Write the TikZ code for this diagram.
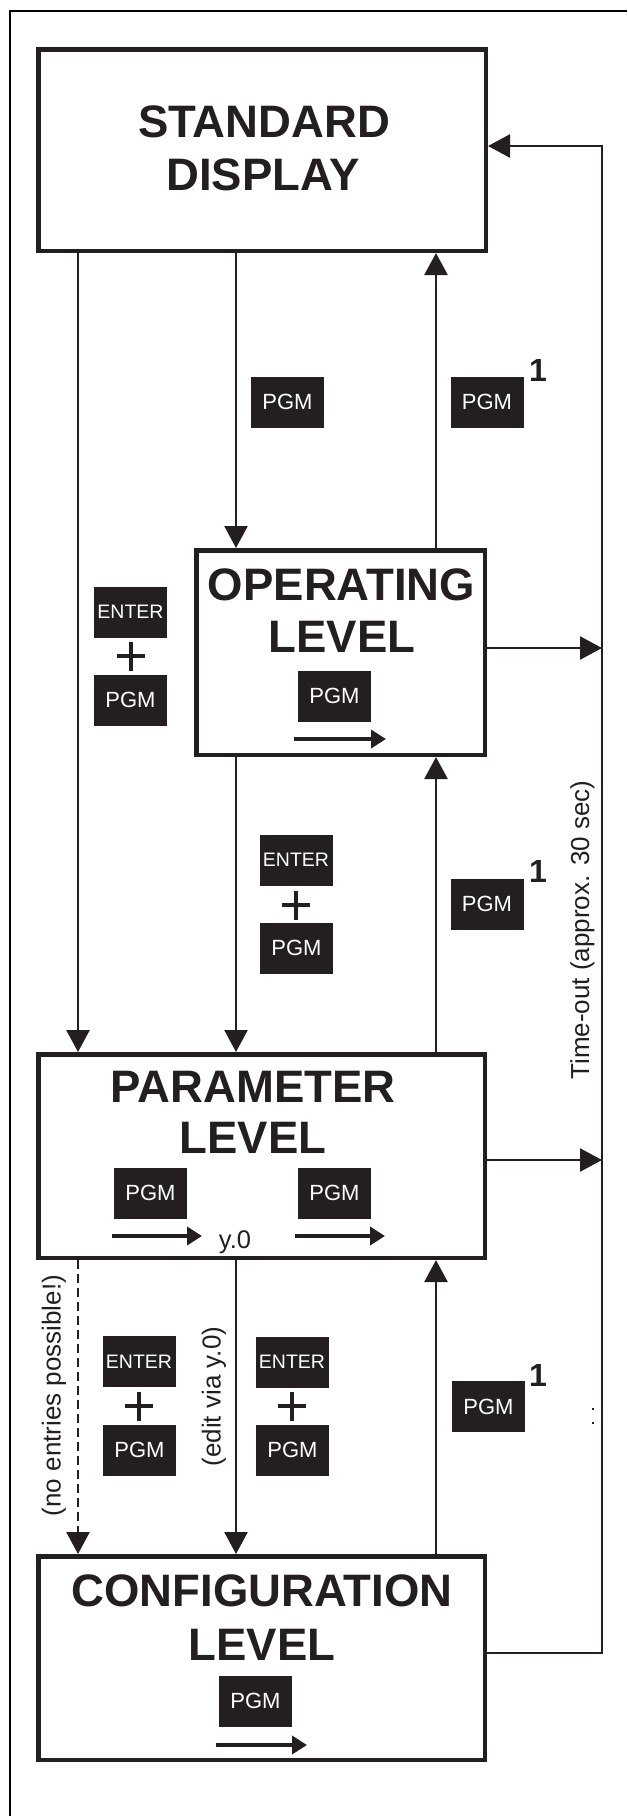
\documentclass[tikz,border=0pt]{standalone}
\usepackage{fontspec}
\setmainfont{Liberation Sans}
\usetikzlibrary{arrows.meta}
\definecolor{ink}{HTML}{231F20}
\begin{document}
\begin{tikzpicture}[x=1pt,y=-1pt,
  conn/.style={draw=ink, line width=2.6pt, -{Triangle[length=22pt,width=23pt]}},
  level/.style={draw=ink, line width=4.5pt, inner sep=0pt},
  key/.style={fill=ink, text=white, inner sep=0pt, minimum width=73pt, minimum height=51pt, font=\fontsize{22}{22}\selectfont},
  enterkey/.style={key, font=\fontsize{19.5}{19.5}\selectfont},
  head/.style={text=ink, inner sep=0pt, anchor=base, font=\fontsize{45.5}{52}\selectfont\bfseries},
  note/.style={text=ink, inner sep=0pt, anchor=base, font=\fontsize{26}{26}\selectfont},
  supone/.style={text=ink, inner sep=0pt, anchor=base, font=\fontsize{32}{32}\selectfont\bfseries},
  plusmark/.style={minimum width=28pt, minimum height=29pt, inner sep=0pt,
    path picture={\draw[ink, line width=3.5pt] (path picture bounding box.north) -- (path picture bounding box.south)
      (path picture bounding box.west) -- (path picture bounding box.east);}},
  keyarrow/.style={draw=ink, line width=4.3pt, -{Triangle[length=15pt,width=18pt]}},
  frame/.style={draw=black, line width=2.5pt}
]
\useasboundingbox (0,0) rectangle (627,1816);
\fill[white] (0,0) rectangle (627,1816);

% outer frame (cut at right and bottom)
\coordinate (fb) at (10,1816);
\coordinate (fc) at (10,11);
\coordinate (fr) at (627,11);
\draw[frame] (fb) -- (fc) -- (fr);

% level boxes
\node[level, minimum width=447.5pt, minimum height=201.5pt] (std) at (262,150) {};
\node[level, minimum width=288.5pt, minimum height=204.5pt] (op) at (340.5,652.5) {};
\node[level, minimum width=446.5pt, minimum height=203.5pt] (par) at (261.5,1156) {};
\node[level, minimum width=446.5pt, minimum height=203.5pt] (cfg) at (261.5,1658) {};

% headings
\node[head] (std1) at (264,137) {STANDARD};
\node[head] (std2) at (263,190) {DISPLAY};
\node[head] (op1) at (341.5,600) {OPERATING};
\node[head] (op2) at (342,652) {LEVEL};
\node[head] (par1) at (253,1102) {PARAMETER};
\node[head] (par2) at (253,1153) {LEVEL};
\node[head] (cfg1) at (262,1606) {CONFIGURATION};
\node[head] (cfg2) at (262,1660) {LEVEL};

% connector columns
\coordinate (xL) at (78,0);
\coordinate (xM) at (236,0);
\coordinate (xR) at (436,0);

\draw[conn] (std.south -| xL) -- (par.north -| xL);
\draw[conn] (std.south -| xM) -- (op.north -| xM);
\draw[conn] (op.north -| xR) -- (std.south -| xR);
\draw[conn] (op.south -| xM) -- (par.north -| xM);
\draw[conn] (par.north -| xR) -- (op.south -| xR);
\draw[conn, dash pattern=on 9pt off 5pt] (par.south -| xL) -- (cfg.north -| xL);
\draw[conn] (par.south -| xM) -- (cfg.north -| xM);
\draw[conn] (cfg.north -| xR) -- (par.south -| xR);

% time-out lines
\coordinate (opout) at (602,648);
\coordinate (parout) at (602,1160);
\coordinate (cfgout) at (602,1653);
\coordinate (stdin) at (602,146);
\draw[conn] (op.east |- opout) -- (opout);
\draw[conn] (par.east |- parout) -- (parout);
\draw[conn] (cfg.east |- cfgout) -- (cfgout) -- (stdin) -- (std.east |- stdin);

% keys: standard <-> operating
\node[key] (k1) at (287.5,402) {PGM};
\node[key] (k2) at (487,402) {PGM};
\node[supone] (s2) at (538,381) {1};

% keys: standard -> parameter
\node[enterkey] (k3e) at (130.5,612) {ENTER};
\node[plusmark] (k3p) at (131,656) {};
\node[key] (k3) at (130.5,700) {PGM};

% operating inner key
\node[key] (k4) at (334.5,696) {PGM};
\coordinate (a4s) at (294,739);
\coordinate (a4e) at (386,739);
\draw[keyarrow] (a4s) -- (a4e);

% keys: operating <-> parameter
\node[enterkey] (k5e) at (296,860) {ENTER};
\node[plusmark] (k5p) at (296,905) {};
\node[key] (k5) at (296.5,948) {PGM};
\node[key] (k6) at (487,904) {PGM};
\node[supone] (s6) at (538,882) {1};

% parameter inner keys
\node[key] (k7) at (150.5,1193) {PGM};
\node[key] (k8) at (334.5,1193) {PGM};
\coordinate (a7s) at (112,1236);
\coordinate (a7e) at (202,1236);
\coordinate (a8s) at (295,1236);
\coordinate (a8e) at (385,1236);
\draw[keyarrow] (a7s) -- (a7e);
\draw[keyarrow] (a8s) -- (a8e);
\node[note, font=\fontsize{25.5}{25.5}\selectfont] (y0) at (235,1248) {y.0};

% keys: parameter <-> configuration
\node[enterkey] (k9e) at (139,1361.5) {ENTER};
\node[plusmark] (k9p) at (139,1406) {};
\node[key] (k9) at (139.5,1450) {PGM};
\node[enterkey] (k10e) at (292,1362) {ENTER};
\node[plusmark] (k10p) at (292,1406) {};
\node[key] (k10) at (292.5,1450) {PGM};
\node[key] (k11) at (488.5,1406.5) {PGM};
\node[supone] (s11) at (538,1386) {1};

% configuration inner key
\node[key] (k12) at (255.5,1701) {PGM};
\coordinate (a12s) at (216,1745);
\coordinate (a12e) at (307,1745);
\draw[keyarrow] (a12s) -- (a12e);

% rotated notes
\node[note, rotate=90] (tmo) at (589,930) {Time-out (approx. 30 sec)};
\node[note, rotate=90] (noe) at (60.5,1395.5) {(no entries possible!)};
\node[note, rotate=90] (edt) at (220.5,1396.5) {(edit via y.0)};

% small marks
\fill[ink] (592,1408) rectangle (594,1410);
\fill[ink] (592,1422) rectangle (594,1424);
\end{tikzpicture}
\end{document}
